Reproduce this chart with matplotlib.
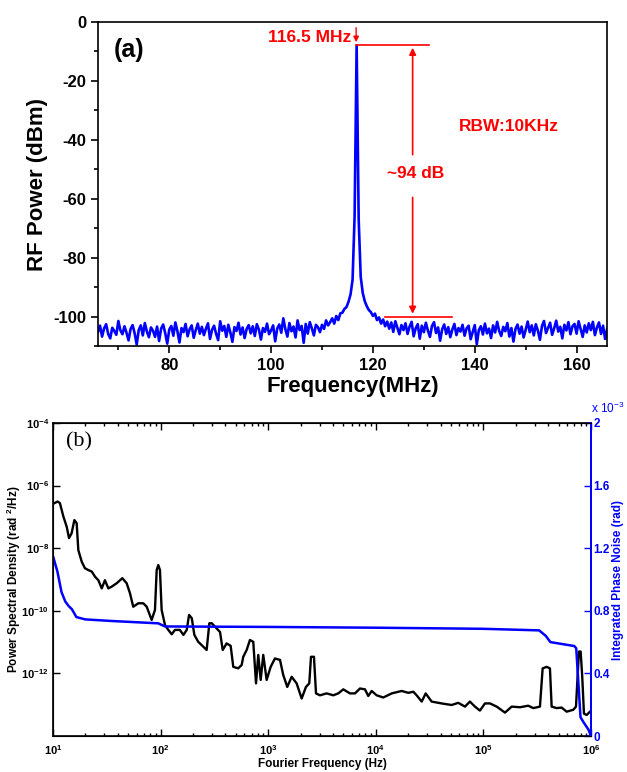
import matplotlib
matplotlib.use("Agg")
import matplotlib.pyplot as plt
import matplotlib.ticker as mticker
import numpy as np

plt.rcParams["font.family"] = ["Liberation Sans", "DejaVu Sans"]
plt.rcParams["mathtext.fontset"] = "custom"
plt.rcParams["mathtext.rm"] = "Liberation Sans"
plt.rcParams["mathtext.bf"] = "Liberation Sans:bold"
plt.rcParams["axes.unicode_minus"] = False

RED = "#ff0000"
BLUE = "#0000ff"

# ── (a) RF spectrum: sweep 66..166 MHz, 0.4 MHz step ────────────────────────
rf_start, rf_stop = 66.0, 166.0
rf_power = [
    -105.2, -103.1, -106.8, -104.0, -102.6, -105.9, -107.4, -103.8, -104.9, -106.2,
    -101.5, -104.7, -106.0, -103.3, -105.5, -108.1, -104.2, -102.9, -105.7, -109.5,
    -104.6, -103.0, -106.4, -102.2, -105.1, -107.0, -103.7, -104.8, -106.9, -103.4,
    -108.3, -104.1, -102.7, -105.6, -109.2, -104.4, -103.2, -106.5, -102.0, -105.0,
    -108.8, -103.9, -105.3, -102.5, -106.7, -104.3, -103.0, -107.2, -104.6, -102.4,
    -105.8, -103.5, -106.3, -104.1, -102.3, -107.6, -104.5, -103.1, -105.9, -108.0,
    -101.6, -104.8, -103.2, -106.9, -102.8, -105.4, -108.6, -103.6, -104.9, -102.1,
    -106.1, -103.7, -107.3, -104.2, -102.9, -105.7, -103.3, -106.6, -102.6, -104.4,
    -107.8, -103.9, -105.2, -102.4, -106.0, -104.7, -103.0, -108.4, -104.1, -102.7,
    -105.5, -100.6, -104.3, -106.8, -102.2, -105.0, -103.4, -107.1, -101.3, -104.6,
    -103.2, -108.9, -102.5, -105.8, -101.9, -104.0, -106.4, -102.8, -103.6, -105.3,
    -102.8, -104.2, -101.3, -103.0, -101.9, -100.6, -102.4, -99.8, -101.2, -98.9,
    -98.7, -97.4, -96.8, -95.0, -92.5, -87.5, -66.0, -8.0, -67.0, -86.5,
    -92.0, -94.8, -96.5, -97.8, -98.5, -99.8, -99.0, -101.2, -100.3, -102.4,
    -101.0, -103.3, -101.7, -104.1, -102.0, -105.2, -101.6, -103.8, -106.0, -102.9,
    -104.6, -102.3, -105.9, -103.4, -101.8, -106.7, -104.0, -102.6, -107.5, -103.1,
    -105.3, -102.1, -104.8, -106.9, -103.2, -101.9, -105.6, -103.7, -108.2, -104.3,
    -102.7, -105.9, -103.6, -107.0, -104.4, -102.5, -106.3, -103.9, -105.1, -102.8,
    -106.5, -104.0, -103.1, -107.7, -105.2, -102.9, -109.4, -104.6, -103.3, -106.1,
    -102.4, -105.7, -104.1, -107.3, -103.0, -105.4, -101.8, -104.9, -106.6, -103.5,
    -105.0, -102.2, -106.8, -103.9, -108.5, -104.2, -102.7, -105.8, -103.4, -107.1,
    -104.5, -101.7, -105.3, -103.0, -106.4, -102.6, -104.8, -107.9, -103.2, -101.5,
    -105.6, -103.8, -102.1, -106.2, -104.0, -101.4, -105.1, -103.5, -107.4, -102.8,
    -104.7, -101.9, -106.0, -103.3, -102.5, -105.8, -101.6, -104.2, -106.9, -103.0,
    -105.4, -102.3, -104.6, -101.8, -106.3, -103.7, -102.0, -105.9, -103.1, -107.6,
    -104.2,
]
rf_freq = np.linspace(rf_start, rf_stop, len(rf_power))

peak_level = -7.8      # dBm, top marker
floor_level = -100.0   # dBm, floor marker

# ── (b) phase noise PSD and integrated phase noise ──────────────────────────
psd_freq = [
    10.2, 11.06, 11.6, 12.5, 13.4, 14.1, 14.9, 15.8, 16.6, 17.2,
    18.5, 19.8, 21.3, 22.9, 24.6, 26.4, 28.4, 30.4, 32.7, 35.1,
    39.1, 44.1, 48.4, 52.0, 55.7, 62.1, 69.1, 74.3, 82.6, 88.7,
    92.0, 95.2, 98.7, 102.3, 109.9, 118, 127, 136, 151, 163,
    175, 184, 195, 206, 224, 232, 268, 284, 299, 332,
    357, 378, 411, 448, 474, 527, 567, 587, 631, 677,
    727, 771, 809, 852, 900, 968, 1055, 1156, 1288, 1381,
    1505, 1653, 1839, 2048, 2245, 2410, 2500, 2665, 2783, 3030,
    3497, 4030, 4484, 4990, 5757, 6411, 7131, 7940, 8516, 9160,
    10190, 11750, 14060, 17410, 20060, 22330, 23990, 26720, 29110, 33050,
    40950, 50720, 58470, 67480, 75040, 83550, 92900, 1.035e5, 1.151e5, 1.33e5,
    1.589e5, 1.834e5, 2.189e5, 2.614e5, 2.909e5, 3.357e5, 3.557e5, 3.873e5, 4.158e5, 4.312e5,
    4.797e5, 5.342e5, 5.946e5, 6.852e5, 7.261e5, 7.52e5, 7.73e5, 8.02e5, 8.30e5, 8.61e5,
    9.12e5, 9.79e5,
]
psd_val = [
    2.7e-7, 3.1e-7, 2.75e-7, 1.02e-7, 4.9e-8, 2.1e-8, 3.0e-8, 7.9e-8, 6.3e-8, 8.7e-9,
    3.7e-9, 2.3e-9, 2.0e-9, 1.8e-9, 1.23e-9, 9.5e-10, 5.2e-10, 9.5e-10, 5.2e-10, 5.9e-10,
    7.6e-10, 1.1e-9, 7.6e-10, 3.6e-10, 1.35e-10, 1.74e-10, 1.74e-10, 1.35e-10, 5.1e-11, 1.07e-10,
    2.0e-9, 2.9e-9, 2.0e-9, 1.07e-10, 3.5e-11, 2.45e-11, 1.78e-11, 2.45e-11, 2.45e-11, 1.7e-11,
    2.45e-11, 7.4e-11, 5.8e-11, 1.7e-11, 1.02e-11, 9.1e-12, 5.6e-12, 4.0e-11, 4.0e-11, 2.75e-11,
    2.1e-11, 5.6e-12, 9.1e-12, 7.6e-12, 1.62e-12, 1.45e-12, 1.86e-12, 3.4e-12, 5.6e-12, 1.17e-11,
    1.02e-11, 4.8e-13, 3.9e-12, 6.2e-13, 3.9e-12, 6.2e-13, 1.62e-12, 3.0e-12, 2.7e-12, 8.9e-13,
    3.7e-13, 7.8e-13, 4.8e-13, 1.58e-13, 3.7e-13, 4.8e-13, 3.4e-12, 3.4e-12, 2.3e-13, 2.0e-13,
    2.3e-13, 2.0e-13, 2.3e-13, 3.1e-13, 2.3e-13, 2.3e-13, 3.3e-13, 3.1e-13, 1.9e-13, 2.75e-13,
    2.0e-13, 1.7e-13, 2.3e-13, 2.75e-13, 2.4e-13, 2.6e-13, 2.0e-13, 1.26e-13, 2.3e-13, 1.26e-13,
    1.1e-13, 9.8e-14, 1.15e-13, 8.7e-14, 1.26e-13, 8.7e-14, 6.5e-14, 1.1e-13, 1.1e-13, 8.7e-14,
    5.6e-14, 8.7e-14, 8.3e-14, 9.3e-14, 7.8e-14, 8.7e-14, 1.45e-12, 1.62e-12, 1.45e-12, 8.7e-14,
    7.8e-14, 8.1e-14, 6.0e-14, 6.9e-14, 8.7e-14, 7.8e-13, 5.0e-12, 5.0e-12, 7.8e-13, 5.2e-14,
    4.7e-14, 6.0e-14,
]

# integrated phase noise, in units of 1e-3 rad
ipn_freq = [10, 11, 12, 13, 14, 15, 16.5, 20, 35, 95, 110, 1e3, 1e4, 1e5,
            3.3e5, 3.8e5, 4.2e5, 7.0e5, 7.3e5, 8.0e5, 8.5e5, 9.5e5, 1e6]
ipn_val = [1.15, 1.05, 0.92, 0.86, 0.83, 0.81, 0.76, 0.745, 0.735, 0.72, 0.70,
           0.697, 0.692, 0.685, 0.675, 0.64, 0.60, 0.575, 0.56, 0.12, 0.09, 0.04, 0.0]

# ── рисунок ─────────────────────────────────────────────────────────────────
fig = plt.figure(figsize=(6.27, 7.72), dpi=100, facecolor="white")

# ── (a) ──────────────────────────────────────────────────────────────────────
ax1 = fig.add_axes([0.1563, 0.5518, 0.812, 0.4197])
ax1.plot(rf_freq, rf_power, color=BLUE, lw=1.9)
ax1.set_xlim(rf_start, rf_stop)
ax1.set_ylim(-110, 0)
ax1.xaxis.set_major_locator(mticker.MultipleLocator(20))
ax1.xaxis.set_minor_locator(mticker.MultipleLocator(10))
ax1.yaxis.set_major_locator(mticker.MultipleLocator(20))
ax1.yaxis.set_minor_locator(mticker.MultipleLocator(10))
ax1.tick_params(which="both", direction="out", top=False, right=False,
                labelsize=12, width=1.2)
ax1.tick_params(which="major", length=5)
ax1.tick_params(which="minor", length=3)
for lbl in ax1.get_xticklabels() + ax1.get_yticklabels():
    lbl.set_fontweight("bold")
for sp in ax1.spines.values():
    sp.set_linewidth(1.2)
ax1.set_xlabel("Frequency(MHz)", fontsize=16, fontweight="bold", labelpad=2)
ax1.set_ylabel("RF Power (dBm)", fontsize=16, fontweight="bold", labelpad=4)
ax1.text(0.03, 0.95, "(a)", transform=ax1.transAxes, fontsize=18,
         fontweight="bold", va="top", ha="left")

# annotations
ax1.text(115.8, -5.4, "116.5 MHz", color=RED, fontsize=12.5,
         fontweight="bold", ha="right", va="center")
ax1.annotate("", xy=(116.7, peak_level), xytext=(116.7, -1.0),
             arrowprops=dict(arrowstyle="-|>", color=RED, lw=1.0,
                             mutation_scale=8))
ax1.plot([116.7, 131.1], [peak_level, peak_level], color=RED, lw=1.2)
ax1.plot([122.3, 135.5], [floor_level, floor_level], color=RED, lw=1.2)
ax1.annotate("", xy=(127.8, peak_level), xytext=(127.8, -46),
             arrowprops=dict(arrowstyle="-|>", color=RED, lw=1.2,
                             mutation_scale=10))
ax1.annotate("", xy=(127.8, floor_level), xytext=(127.8, -58.6),
             arrowprops=dict(arrowstyle="-|>", color=RED, lw=1.2,
                             mutation_scale=10))
ax1.text(128.4, -51.5, "~94 dB", color=RED, fontsize=12.5,
         fontweight="bold", ha="center", va="center")
ax1.text(136.9, -35.4, "RBW:10KHz", color=RED, fontsize=12.5,
         fontweight="bold", ha="left", va="center")

# ── (b) ──────────────────────────────────────────────────────────────────────
ax2 = fig.add_axes([0.0845, 0.0466, 0.858, 0.4055])
ax2.plot(psd_freq, psd_val, color="black", lw=1.7)
ax2.set_xscale("log")
ax2.set_yscale("log")
ax2.set_xlim(10, 1e6)
ax2.set_ylim(1e-14, 1e-4)

pow_fmt = mticker.FuncFormatter(
    lambda v, p: r"$\mathbf{10^{%d}}$" % int(round(np.log10(v))))
ax2.xaxis.set_major_locator(mticker.LogLocator(base=10, numticks=10))
ax2.xaxis.set_minor_locator(mticker.LogLocator(base=10, subs=np.arange(2, 10),
                                               numticks=20))
ax2.xaxis.set_minor_formatter(mticker.NullFormatter())
ax2.xaxis.set_major_formatter(pow_fmt)
ax2.yaxis.set_major_locator(mticker.FixedLocator([1e-12, 1e-10, 1e-8, 1e-6, 1e-4]))
ax2.yaxis.set_minor_locator(mticker.NullLocator())
ax2.yaxis.set_major_formatter(pow_fmt)
ax2.tick_params(which="both", direction="in", top=True, right=False,
                labelsize=8, width=1.0)
ax2.tick_params(axis="x", pad=5)
ax2.tick_params(axis="y", pad=3)
ax2.tick_params(which="major", length=5)
ax2.tick_params(which="minor", length=2.5)
for sp in ax2.spines.values():
    sp.set_linewidth(1.2)
ax2.set_xlabel("Fourier Frequency (Hz)", fontsize=8.5, fontweight="bold")
ax2.xaxis.set_label_coords(0.5, -0.071)
ax2.set_ylabel(r"Power Spectral Density (rad $\mathbf{^{2}}$/Hz)", fontsize=8.5,
               fontweight="bold", va="center")
ax2.yaxis.set_label_coords(-0.072, 0.5)
ax2.text(0.025, 0.97, "(b)", transform=ax2.transAxes, fontsize=16,
         family="Liberation Serif", va="top", ha="left")

ax3 = ax2.twinx()
ax3.plot(ipn_freq, ipn_val, color=BLUE, lw=1.8)
ax3.set_ylim(0, 2)
ax3.yaxis.set_major_locator(mticker.MultipleLocator(0.4))
ax3.yaxis.set_major_formatter(mticker.FuncFormatter(
    lambda v, p: "%g" % round(v, 1)))
ax3.tick_params(axis="y", direction="in", colors=BLUE, labelsize=8.5,
                length=5, width=1.0, pad=2)
for lbl in ax3.get_yticklabels():
    lbl.set_fontweight("bold")
ax3.spines["right"].set_color(BLUE)
ax3.spines["right"].set_linewidth(1.4)
ax3.set_ylabel("Integrated Phase Noise (rad)", color=BLUE, fontsize=8.5,
               fontweight="bold", va="center")
ax3.yaxis.set_label_coords(1.05, 0.5)
ax3.text(1.0, 1.022, r"x 10$^{-3}$", transform=ax3.transAxes, color=BLUE,
         fontsize=8.5, ha="left", va="bottom")

plt.savefig("out.png", dpi=100, facecolor=fig.get_facecolor())
